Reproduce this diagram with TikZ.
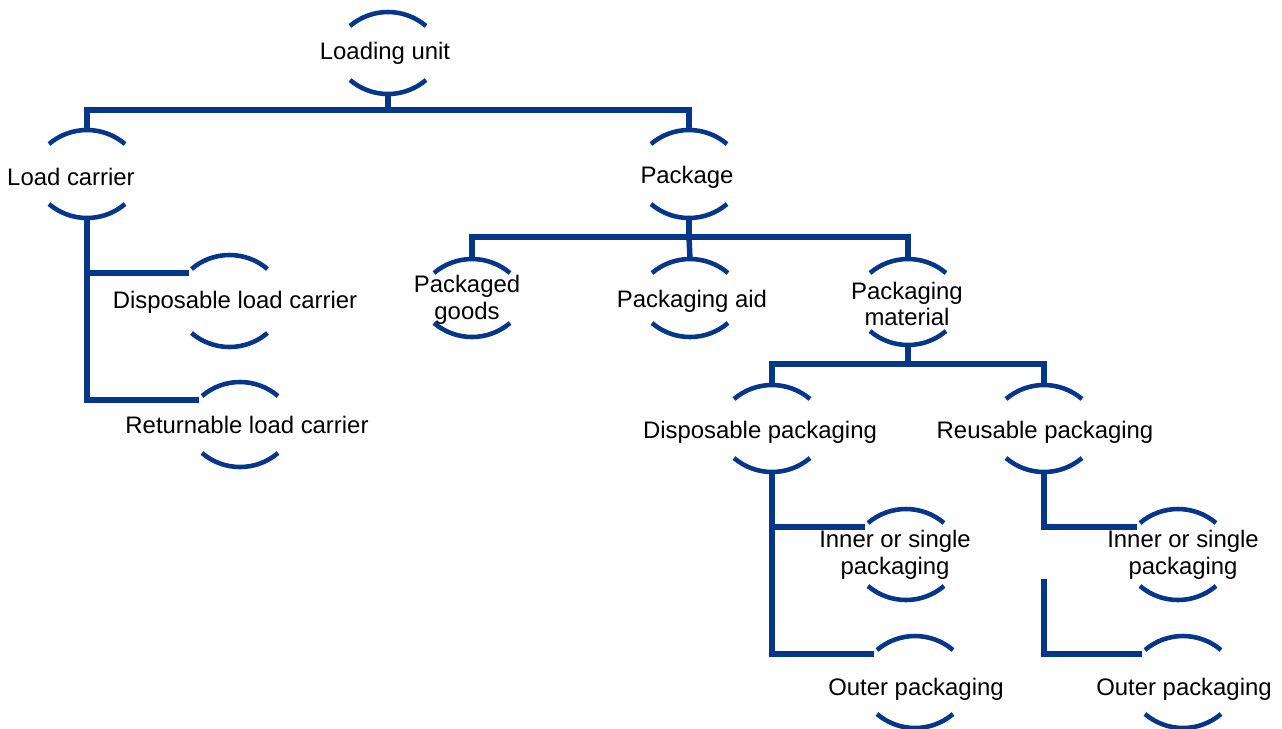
\documentclass[tikz,border=0pt]{standalone}
\usepackage{fontspec}
\setmainfont{Liberation Sans}
\usetikzlibrary{calc}
\definecolor{navy}{RGB}{6,54,138}

\begin{document}
\begin{tikzpicture}[x=0.02cm, y=0.02cm]
  \tikzstyle{unit}=[align=center, inner sep=0pt, font=\fontsize{13.6}{15.3}\selectfont]
  \tikzstyle{rim}=[navy, line width=2.6pt]
  \tikzstyle{link}=[navy, line width=3.1pt]
  \useasboundingbox (0,0) rectangle (1282,-728);
  % the units
  \node[unit] (lu) at (385,-53) {Loading unit};
  \node[unit] (lc) at (71,-177) {Load carrier};
  \node[unit] (dlc) at (235,-302) {Disposable load carrier};
  \node[unit] (rlc) at (247,-425) {Returnable load carrier};
  \node[unit] (pk) at (687,-177) {Package};
  \node[unit] (pg) at (467,-300) {Packaged\\goods};
  \node[unit] (pa) at (692,-301) {Packaging aid};
  \node[unit] (pm) at (907,-304) {Packaging\\material};
  \node[unit] (dp) at (760,-432) {Disposable packaging};
  \node[unit] (rp) at (1045,-432) {Reusable packaging};
  \node[unit] (iL) at (895,-555) {Inner or single\\packaging};
  \node[unit] (oL) at (916,-689) {Outer packaging};
  \node[unit] (iR) at (1183,-555) {Inner or single\\packaging};
  \node[unit] (oR) at (1184,-689) {Outer packaging};
  % arcs above and below every unit
  \foreach \n/\dx/\dy/\h in {lu/3/0/41, lc/16/3/44, dlc/-5.5/1/46, rlc/-7/0.5/42.5,
      pk/2/3/44, pg/5/2/39, pa/-2/3/39, pm/1/2/43, dp/12/3.5/43.5, rp/-1/3.5/43.5,
      iL/11/0.5/45.5, oL/-1/7/46, iR/-5/0.5/45.5, oR/-1/7/46} {
    \coordinate (\n-t) at ($(\n.center)+(\dx,\dy+\h)$);
    \coordinate (\n-b) at ($(\n.center)+(\dx,\dy-\h)$);
    \coordinate (\n-w) at ($(\n-t)+(-41,-18)$);
    \draw[rim] ($(\n-t)+(-38,-14)$) arc[start angle=130.45, end angle=49.55, radius=58.57];
    \draw[rim] ($(\n-b)+(-38,14)$) arc[start angle=229.55, end angle=310.45, radius=58.57];
  }
  % tree lines
  \draw[link] (lu-b) -- ++(0,-16) coordinate (lu-j);
  \draw[link] (lc-t) |- (lu-j) -| (pk-t);
  \draw[link] (lc-b) |- (dlc-w);
  \draw[link] (lc-b) |- (rlc-w);
  \draw[link] (pk-b) -- ++(0,-19) coordinate (pk-j);
  \draw[link] (pg-t) |- (pk-j) -| (pm-t);
  \draw[link] (pk-j) -- (pa-t);
  \draw[link] (pm-b) -- ++(0,-19) coordinate (pm-j);
  \draw[link] (dp-t) |- (pm-j) -| (rp-t);
  \draw[link] (dp-b) |- (iL-w);
  \draw[link] (dp-b) |- (oL-w);
  \draw[link] (rp-b) |- (iR-w);
  \coordinate (rp-g) at ($(rp-b)+(0,-107)$);
  \draw[link] (rp-g) |- (oR-w);
\end{tikzpicture}
\end{document}
